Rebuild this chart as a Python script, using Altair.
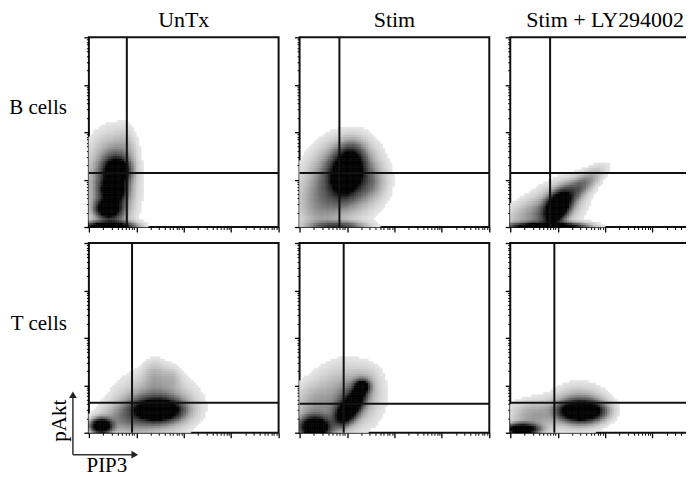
import numpy as np
import pandas as pd
import altair as alt

SERIF = "Liberation Serif, Times New Roman, DejaVu Serif, Noto Serif, serif"

COLUMNS = ["UnTx", "Stim", "Stim + LY294002"]
ROWS = ["B cells", "T cells"]

# quadrant gates, in decades of PIP3 (x) and pAkt (y)
GATE_X_B = [0.80, 0.84, 0.84]
GATE_Y_B = [1.14, 1.14, 1.14]
GATE_X_T = [0.91, 0.93, 0.93]
GATE_Y_T = [0.63, 0.61, 0.63]

# density components:
# (PIP3 decade, pAkt decade, spread along angle, spread across, angle deg, weight)
B_UNTX = [
    (0.60, 1.20, 0.15, 0.15, 0, 1.3),
    (0.52, 0.80, 0.14, 0.12, 0, 1.2),
    (0.40, 0.40, 0.14, 0.11, 0, 1.4),
    (0.52, 0.80, 0.17, 0.42, 0, 0.60),
    (0.42, 0.02, 0.30, 0.06, 0, 1.4),
    (0.45, 0.90, 0.33, 0.60, 0, 0.28),
    (0.78, 1.55, 0.14, 0.35, 0, 0.10),
]
B_STIM = [
    (1.01, 1.18, 0.27, 0.17, 75, 1.6),
    (0.98, 1.10, 0.38, 0.30, 70, 0.45),
    (0.95, 1.00, 0.48, 0.50, 0, 0.22),
    (0.40, 0.45, 0.30, 0.40, 0, 0.15),
    (0.80, 0.03, 0.35, 0.06, 0, 0.45),
    (1.45, 0.95, 0.22, 0.22, 0, 0.15),
]
B_LY = [
    (1.00, 0.42, 0.19, 0.12, 60, 1.7),
    (1.00, 0.45, 0.30, 0.16, 50, 0.35),
    (1.40, 0.80, 0.40, 0.12, 38, 0.30),
    (0.95, 0.02, 0.38, 0.05, 0, 1.2),
    (0.40, 0.03, 0.30, 0.04, 0, 0.6),
    (0.50, 0.25, 0.40, 0.22, 15, 0.16),
    (1.00, 0.45, 0.45, 0.32, 35, 0.12),
]
T_UNTX = [
    (1.45, 0.48, 0.25, 0.12, 0, 1.9),
    (1.45, 0.52, 0.38, 0.20, 0, 0.40),
    (1.40, 0.60, 0.52, 0.42, 0, 0.18),
    (1.40, 1.20, 0.16, 0.22, 0, 0.10),
    (1.75, 1.15, 0.12, 0.15, 0, 0.08),
    (0.27, 0.15, 0.13, 0.09, 0, 1.6),
    (0.80, 0.30, 0.35, 0.20, 0, 0.20),
]
T_STIM = [
    (0.33, 0.12, 0.18, 0.13, 0, 1.7),
    (1.00, 0.45, 0.18, 0.11, 50, 1.3),
    (1.20, 0.72, 0.16, 0.09, 60, 1.1),
    (1.32, 0.98, 0.09, 0.08, 0, 1.1),
    (1.10, 0.65, 0.35, 0.18, 55, 0.35),
    (1.00, 0.75, 0.45, 0.45, 0, 0.18),
    (0.30, 0.50, 0.28, 0.32, 0, 0.15),
]
T_LY = [
    (1.50, 0.46, 0.24, 0.11, 0, 1.9),
    (1.50, 0.48, 0.33, 0.18, 0, 0.35),
    (1.45, 0.55, 0.36, 0.30, 0, 0.16),
    (0.25, 0.08, 0.20, 0.07, 0, 1.4),
    (0.50, 0.35, 0.32, 0.22, 0, 0.18),
]

BLOBS = {"B cells": [B_UNTX, B_STIM, B_LY], "T cells": [T_UNTX, T_STIM, T_LY]}
GATES = {"B cells": (GATE_X_B, GATE_Y_B), "T cells": (GATE_X_T, GATE_Y_T)}
LABEL_Y = {"B cells": 71, "T cells": 81}

MAJOR = [1, 10, 100, 1000, 10000]
MINOR = [m * 10 ** k for k in range(4) for m in range(2, 10)]

STEP = 0.05
W = 190
H = 190


def density_cells(blobs):
    c = np.arange(0, 4, STEP) + STEP / 2
    U, V = np.meshgrid(c, c)
    d = np.zeros_like(U)
    for u, v, sa, sb, ang, w in blobs:
        t = np.radians(ang)
        du, dv = U - u, V - v
        a = du * np.cos(t) + dv * np.sin(t)
        b = -du * np.sin(t) + dv * np.cos(t)
        d += w * np.exp(-0.5 * ((a / sa) ** 2 + (b / sb) ** 2))
    m = d >= 0.03
    return pd.DataFrame({
        "x0": np.round(10 ** (U[m] - STEP / 2), 4),
        "x1": np.round(10 ** (U[m] + STEP / 2), 4),
        "y0": np.round(10 ** (V[m] - STEP / 2), 4),
        "y1": np.round(10 ** (V[m] + STEP / 2), 4),
        "d": np.round(d[m], 3),
    })


def axis(orient, values, size, width):
    return alt.Axis(orient=orient, values=values, labels=False, domain=False,
                    grid=False, title=None, ticks=True, tickSize=size,
                    tickWidth=width, tickColor="black")


def panel(row, ci):
    xs = alt.Scale(type="log", domain=[1, 10000], nice=False)
    ys = alt.Scale(type="log", domain=[1, 10000], nice=False)
    cs = alt.Scale(type="linear", domain=[0.03, 0.1, 0.3, 0.75],
                   range=["#e6e6e6", "#c2c2c2", "#6a6a6a", "#000000"], clamp=True)
    cells = density_cells(BLOBS[row][ci])
    dens = alt.Chart(cells).mark_rect(strokeWidth=0.6).encode(
        x=alt.X("x0:Q", scale=xs, axis=axis("bottom", MAJOR, 5, 1.3)),
        x2="x1:Q",
        y=alt.Y("y0:Q", scale=ys, axis=axis("left", MAJOR, 5, 1.3)),
        y2="y1:Q",
        fill=alt.Fill("d:Q", scale=cs, legend=None),
        stroke=alt.Stroke("d:Q", scale=cs, legend=None),
    )
    gx, gy = GATES[row]
    gate = pd.DataFrame({"gx": [10 ** gx[ci]], "gy": [10 ** gy[ci]]})
    vrule = alt.Chart(gate).mark_rule(color="#111", strokeWidth=2).encode(
        x=alt.X("gx:Q", scale=xs, axis=axis("bottom", MINOR, 2.5, 1)))
    hrule = alt.Chart(gate).mark_rule(color="#111", strokeWidth=2).encode(
        y=alt.Y("gy:Q", scale=ys, axis=axis("left", MINOR, 2.5, 1)))
    layers = [dens, vrule, hrule]
    if ci == 0:
        lab = alt.Chart(pd.DataFrame({"t": [row]})).mark_text(
            font=SERIF, fontSize=21, align="right", baseline="middle", color="black"
        ).encode(x=alt.value(-22), y=alt.value(LABEL_Y[row]), text="t:N")
        layers.append(lab)
    if row == "T cells" and ci == 0:
        arrow_df = pd.DataFrame({"t": ["pAkt"], "u": ["PIP3"]})
        vline = alt.Chart(arrow_df).mark_rule(color="#333", strokeWidth=1.5).encode(
            x=alt.value(-16), y=alt.value(152), y2=alt.value(212))
        hline = alt.Chart(arrow_df).mark_rule(color="#333", strokeWidth=1.5).encode(
            x=alt.value(-16), x2=alt.value(45), y=alt.value(212))
        up = alt.Chart(arrow_df).mark_point(shape="triangle-up", filled=True, size=60,
                                            color="#222", opacity=1).encode(
            x=alt.value(-16), y=alt.value(152))
        right = alt.Chart(arrow_df).mark_point(shape="triangle-right", filled=True, size=60,
                                               color="#222", opacity=1).encode(
            x=alt.value(46), y=alt.value(212))
        t1 = alt.Chart(arrow_df).mark_text(font=SERIF, fontSize=21, angle=270,
                                           align="center", baseline="middle",
                                           color="black").encode(
            x=alt.value(-29), y=alt.value(178), text="t:N")
        t2 = alt.Chart(arrow_df).mark_text(font=SERIF, fontSize=21, align="center",
                                           baseline="middle", color="black").encode(
            x=alt.value(18), y=alt.value(223), text="u:N")
        layers += [vline, hline, up, right, t1, t2]
    ch = alt.layer(*layers).resolve_axis(x="independent", y="independent")
    props = dict(width=W, height=H)
    if row == "B cells":
        props["title"] = alt.TitleParams(COLUMNS[ci], font=SERIF, fontSize=22,
                                         fontWeight="normal", color="black",
                                         anchor="middle", offset=4)
    return ch.properties(**props)


rows = [alt.hconcat(*[panel(r, ci) for ci in range(3)], spacing=12) for r in ROWS]
chart = alt.vconcat(*rows, spacing=7).properties(
    padding={"left": 0, "top": 0, "right": -16, "bottom": 0}
).configure_view(stroke="#111", strokeWidth=2)

chart.save("out.html", embed_options={"renderer": "svg", "actions": False})
